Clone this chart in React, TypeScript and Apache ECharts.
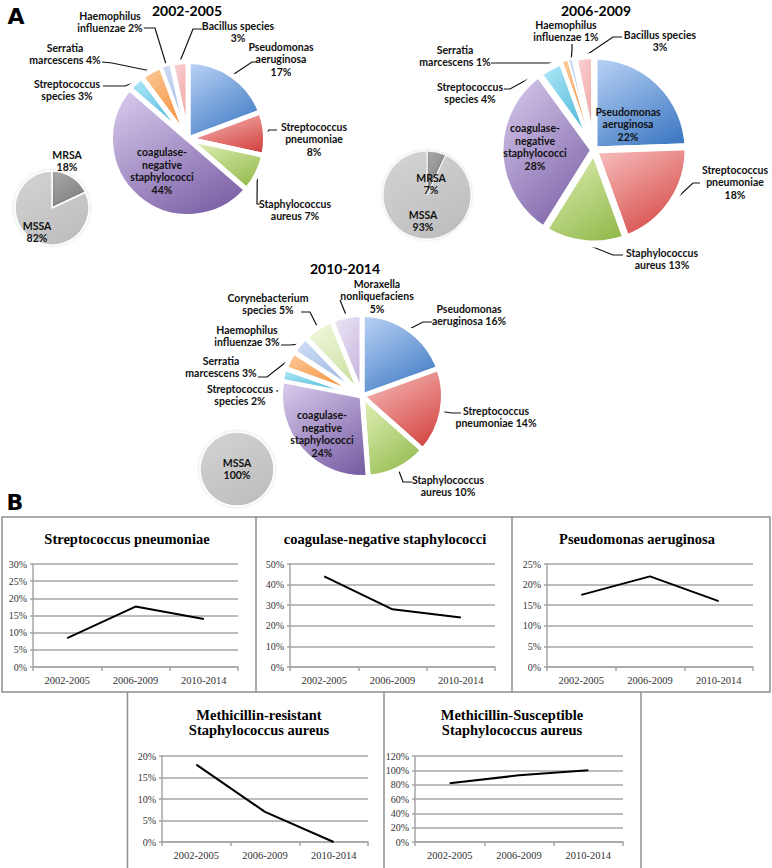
import React, { useEffect, useRef } from "react";
import * as echarts from "echarts";

// ---------- data ----------
const periods = ["2002-2005", "2006-2009", "2010-2014"];

const names2002 = [
  "Pseudomonas aeruginosa",
  "Streptococcus pneumoniae",
  "Staphylococcus aureus",
  "coagulase-negative staphylococci",
  "Streptococcus species",
  "Serratia marcescens",
  "Haemophilus influenzae",
  "Bacillus species",
];
const values2002 = [17, 8, 7, 44, 3, 4, 2, 3];

const names2006 = names2002;
const values2006 = [22, 18, 13, 28, 4, 1, 1, 3];

const names2010 = [
  "Pseudomonas aeruginosa",
  "Streptococcus pneumoniae",
  "Staphylococcus aureus",
  "coagulase-negative staphylococci",
  "Streptococcus species",
  "Serratia marcescens",
  "Haemophilus influenzae",
  "Corynebacterium species",
  "Moraxella nonliquefaciens",
];
const values2010 = [16, 14, 10, 24, 2, 3, 3, 5, 5];

const saNames = ["MRSA", "MSSA"];
const sa2002 = [18, 82];
const sa2006 = [7, 93];
const sa2010 = [0, 100];

const trendTitles = [
  ["Streptococcus pneumoniae"],
  ["coagulase-negative staphylococci"],
  ["Pseudomonas aeruginosa"],
  ["Methicillin-resistant", "Staphylococcus aureus"],
  ["Methicillin-Susceptible", "Staphylococcus aureus"],
];
const trendPneumo = [8.4, 17.6, 14.0];
const trendCoNS = [44, 28, 24];
const trendPseudo = [17.5, 22, 16];
const trendMRSA = [18, 7, 0];
const trendMSSA = [82, 93, 100];
const yMaxes = [30, 50, 25, 20, 120];
const yIntervals = [5, 10, 5, 5, 20];

// ---------- styles / layout ----------
const speciesColors: Record<string, [string, string]> = {
  "Pseudomonas aeruginosa": ["#b2cdf2", "#3c77c2"],
  "Streptococcus pneumoniae": ["#f6bab9", "#d3433f"],
  "Staphylococcus aureus": ["#ddeeb3", "#93b94b"],
  "coagulase-negative staphylococci": ["#d3c6e9", "#7a5fa5"],
  "Streptococcus species": ["#ace6f6", "#3cb0d5"],
  "Serratia marcescens": ["#fcc794", "#f2882f"],
  "Haemophilus influenzae": ["#cfddf5", "#93afe1"],
  "Bacillus species": ["#fad2d2", "#ee9d9d"],
  "Corynebacterium species": ["#f2f8de", "#c6dd9a"],
  "Moraxella nonliquefaciens": ["#ece4f5", "#c2b1dc"],
  MRSA: ["#a6a6a6", "#7c7c7c"],
  MSSA: ["#d2d2d2", "#bdbdbd"],
};

type Pt = [number, number];
type LabelPos = { x: number; y: number; seps: string; inside?: boolean; elbow?: Pt; end?: Pt };
type PieCfg = { center: Pt; radius: number; gap: number; labels: LabelPos[] };

const pie1: PieCfg = {
  center: [188, 139],
  radius: 77.5,
  gap: 5,
  labels: [
    { x: 281, y: 59, seps: "nn", elbow: [252, 62], end: [256, 62] },
    { x: 314, y: 139, seps: "nn", elbow: [269, 130], end: [277, 130] },
    { x: 295, y: 210, seps: "ns", elbow: [257, 204], end: [260, 204] },
    { x: 162, y: 171, seps: "nnn", inside: true },
    { x: 67, y: 90, seps: "ns", elbow: [125, 86], end: [103, 86] },
    { x: 65, y: 54, seps: "ns", elbow: [112, 63], end: [102, 62] },
    { x: 110, y: 22, seps: "ns", elbow: [155, 28], end: [144, 28] },
    { x: 238, y: 32, seps: "sn", elbow: [193, 29], end: [202, 29] },
  ],
};
const pie2: PieCfg = {
  center: [594, 150],
  radius: 94,
  gap: 7,
  labels: [
    { x: 628, y: 124, seps: "nn", inside: true },
    { x: 735, y: 182, seps: "nn", elbow: [693, 183], end: [700, 183] },
    { x: 662, y: 259, seps: "ns", elbow: [613, 255], end: [623, 255] },
    { x: 535, y: 147, seps: "nnn", inside: true },
    { x: 470, y: 93, seps: "ns", elbow: [510, 89], end: [504, 89] },
    { x: 455, y: 56, seps: "ns", elbow: [556, 63], end: [491, 63] },
    { x: 566, y: 31, seps: "ns", elbow: [572, 50], end: [572, 44] },
    { x: 660, y: 41, seps: "sn", elbow: [613, 37], end: [622, 37] },
  ],
};
const pie3: PieCfg = {
  center: [362, 396],
  radius: 81.5,
  gap: 5,
  labels: [
    { x: 469, y: 315, seps: "ns", elbow: [423, 322], end: [432, 322] },
    { x: 496, y: 417, seps: "ns", elbow: [452, 413], end: [461, 413] },
    { x: 448, y: 486, seps: "ns", elbow: [403, 482], end: [412, 482] },
    { x: 322, y: 434, seps: "nnn", inside: true },
    { x: 240, y: 395, seps: "ns", elbow: [283, 391], end: [276, 391] },
    { x: 221, y: 367, seps: "ns", elbow: [267, 377], end: [258, 377] },
    { x: 247, y: 336, seps: "ns", elbow: [290, 345], end: [281, 345] },
    { x: 268, y: 304, seps: "ns", elbow: [310, 312], end: [301, 312] },
    { x: 377, y: 296, seps: "nn", elbow: [340, 300], end: [340, 300] },
  ],
};
const sPie1: PieCfg = {
  center: [52, 208], radius: 37, gap: 1.5,
  labels: [{ x: 67, y: 161, seps: "n", inside: true }, { x: 37, y: 232, seps: "n", inside: true }],
};
const sPie2: PieCfg = {
  center: [427, 195], radius: 44, gap: 1,
  labels: [{ x: 431, y: 184, seps: "n", inside: true }, { x: 423, y: 221, seps: "n", inside: true }],
};
const sPie3: PieCfg = {
  center: [237, 469], radius: 37, gap: 1.5,
  labels: [{ x: 237, y: 469, seps: "n", inside: true }],
};

const grids = [
  { left: 33, top: 564, width: 205, height: 103 },
  { left: 290, top: 564, width: 205, height: 103 },
  { left: 547, top: 564, width: 206, height: 103 },
  { left: 162, top: 756, width: 206, height: 86 },
  { left: 415, top: 756, width: 208, height: 86 },
];
const trendTitlePos: Pt[] = [[127, 539], [385, 539], [637, 539], [259, 715], [512, 715]];

const labelFont = "Lato";
const serif = "Liberation Serif";

function labelText(name: string, value: number, seps: string) {
  const tokens = name.split(/(?<=-)| /).concat([value + "%"]);
  let s = tokens[0];
  for (let i = 1; i < tokens.length; i++) s += (seps[i - 1] === "n" ? "\n" : " ") + tokens[i];
  return s;
}

function grad(name: string) {
  const c = speciesColors[name];
  return {
    type: "linear", x: 0.2, y: 0, x2: 0.8, y2: 1,
    colorStops: [{ offset: 0, color: c[0] }, { offset: 1, color: c[1] }],
  };
}

function pieSeries(names: string[], values: number[], cfg: PieCfg, small: boolean) {
  const items = names
    .map((n, i) => ({ n, v: values[i], i }))
    .filter((d) => d.v > 0);
  const total = items.reduce((a, d) => a + d.v, 0);
  return {
    type: "pie",
    center: cfg.center,
    radius: [0, cfg.radius],
    startAngle: 90,
    clockwise: true,
    avoidLabelOverlap: false,
    silent: true,
    label: {
      show: true,
      position: "outside",
      alignTo: "none",
      fontFamily: labelFont,
      fontWeight: "bold",
      fontSize: 10.5,
      lineHeight: 12.5,
      color: "#111",
      formatter: (p: any) => labelText(p.name, p.value, cfg.labels[p.dataIndex].seps),
    },
    labelLine: { show: true, length: 8, length2: 8, smooth: false, lineStyle: { color: "#111", width: 1.2 } },
    labelLayout: (params: any) => {
      const lp = cfg.labels[params.dataIndex];
      const res: any = { x: lp.x, y: lp.y, align: "center", verticalAlign: "middle" };
      if (lp.elbow && params.labelLinePoints && params.labelLinePoints.length) {
        res.labelLinePoints = [params.labelLinePoints[0], lp.elbow, lp.end];
      }
      return res;
    },
    data: items.map((d, k) => {
      const lp = cfg.labels[k];
      const arc = (d.v / total) * 2 * Math.PI * cfg.radius;
      const bw = Math.min(cfg.gap, Math.max(1.2, arc * 0.3));
      return {
        name: d.n,
        value: d.v,
        itemStyle: {
          color: grad(d.n),
          borderColor: "#ffffff",
          borderWidth: bw,
          borderJoin: "round",
          ...(small ? { shadowBlur: 3, shadowColor: "rgba(0,0,0,0.18)" } : {}),
        },
        label: lp.inside ? { position: "inside" } : undefined,
        labelLine: lp.inside ? { show: false } : undefined,
      };
    }),
  };
}

const trends = [trendPneumo, trendCoNS, trendPseudo, trendMRSA, trendMSSA];

export default function App() {
  const ref = useRef<HTMLDivElement>(null);
  useEffect(() => {
    if (!ref.current) return;
    const chart = echarts.init(ref.current, null, { renderer: "svg" });

    const gridLine = { color: "#a6a6a6", width: 1.5 };
    const graphics: any[] = [];
    const txt = (text: string, x: number, y: number, font: string) => ({
      type: "text",
      silent: true,
      style: { text, x, y, font, fill: "#000", textAlign: "center", textVerticalAlign: "middle" },
    });
    graphics.push(txt("A", 16, 16, 'bold 22px "DejaVu Sans"'));
    graphics.push(txt("B", 15, 502, 'bold 22px "DejaVu Sans"'));
    graphics.push(txt(periods[0], 187, 10, 'bold 14px "Lato"'));
    graphics.push(txt(periods[1], 596, 10, 'bold 14px "Lato"'));
    graphics.push(txt(periods[2], 345, 268, 'bold 14px "Lato"'));

    const border = { stroke: "#8f8f8f", lineWidth: 1.5 };
    graphics.push({ type: "rect", silent: true, shape: { x: 2, y: 517, width: 768, height: 175 }, style: { fill: "none", ...border } });
    [256, 512].forEach((x) =>
      graphics.push({ type: "line", silent: true, shape: { x1: x, y1: 517, x2: x, y2: 692 }, style: border })
    );
    [127.5, 384, 641].forEach((x) =>
      graphics.push({ type: "line", silent: true, shape: { x1: x, y1: 692, x2: x, y2: 870 }, style: border })
    );
    trendTitles.forEach((lines, i) => {
      lines.forEach((l, j) => {
        graphics.push(txt(l, trendTitlePos[i][0], trendTitlePos[i][1] + j * 15, `bold 14.5px "${serif}"`));
      });
    });

    const option: any = {
      animation: false,
      backgroundColor: "#ffffff",
      graphic: { elements: graphics },
      grid: grids.map((g) => ({ ...g, containLabel: false })),
      xAxis: grids.map((_, i) => ({
        type: "category",
        gridIndex: i,
        data: periods,
        boundaryGap: true,
        axisLine: { show: true, lineStyle: gridLine },
        axisTick: { show: true, length: 4, lineStyle: gridLine },
        axisLabel: { interval: 0, margin: 8, fontFamily: serif, fontSize: 10.5, color: "#333" },
        splitLine: { show: false },
      })),
      yAxis: grids.map((_, i) => ({
        type: "value",
        gridIndex: i,
        min: 0,
        max: yMaxes[i],
        interval: yIntervals[i],
        axisLine: { show: true, lineStyle: gridLine },
        axisTick: { show: true, length: 3, lineStyle: gridLine },
        axisLabel: { formatter: "{value}%", margin: 6, fontFamily: serif, fontSize: 10, color: "#333" },
        splitLine: { show: true, lineStyle: gridLine },
      })),
      series: [
        pieSeries(names2002, values2002, pie1, false),
        pieSeries(names2006, values2006, pie2, false),
        pieSeries(names2010, values2010, pie3, false),
        pieSeries(saNames, sa2002, sPie1, true),
        pieSeries(saNames, sa2006, sPie2, true),
        pieSeries(saNames, sa2010, sPie3, true),
        ...trends.map((t, i) => ({
          type: "line",
          xAxisIndex: i,
          yAxisIndex: i,
          data: t,
          symbol: "none",
          silent: true,
          lineStyle: { color: "#000", width: 2 },
        })),
      ],
    };
    chart.setOption(option);
    return () => chart.dispose();
  }, []);
  return (
    <div
      ref={ref}
      style={{ position: "absolute", left: 0, top: 0, width: 772, height: 868, background: "#fff" }}
    />
  );
}
